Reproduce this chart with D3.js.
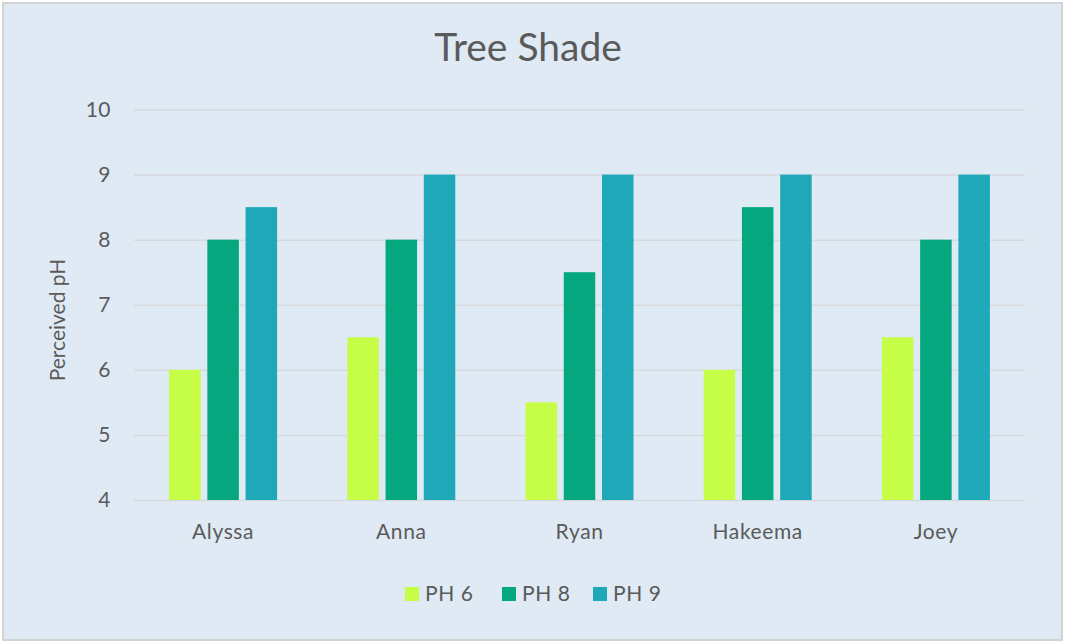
<!DOCTYPE html>
<html><head><meta charset="utf-8">
<script src="https://cdn.jsdelivr.net/npm/d3@7"></script>
<style>body{margin:0;background:#fff;}svg{display:block;}</style>
</head><body>
<svg id="c" width="1065" height="643"></svg>
<script>
const categories = ["Alyssa","Anna","Ryan","Hakeema","Joey"];
const seriesNames = ["PH 6","PH 8","PH 9"];
const ph6 = [6, 6.5, 5.5, 6, 6.5];
const ph8 = [8, 8, 7.5, 8.5, 8];
const ph9 = [8.5, 9, 9, 9, 9];
const yTicks = [4,5,6,7,8,9,10];
const colors = ["#c6fd46","#05a87e","#1fa9b8"];
const seriesValues = [ph6, ph8, ph9];

(function(){
const svg = d3.select("#c");
const font = "Lato, 'Open Sans', sans-serif";
const textCol = "#5a5a5a";

svg.append("rect").attr("x",3).attr("y",3).attr("width",1059).attr("height",637)
  .attr("fill","#dfeaf5").attr("stroke","#d3d3d3").attr("stroke-width",2);

const pLeft = 134, pRight = 1025, pTop = 109.5, pBottom = 500;
const x0 = d3.scaleBand().domain(categories).range([pLeft,pRight]).paddingInner(0.394).paddingOuter(0.197);
const x1 = d3.scaleBand().domain(seriesNames).range([0,x0.bandwidth()]).paddingInner(0.176).paddingOuter(0);
const y = d3.scaleLinear().domain([4,10]).range([pBottom,pTop]);

const yAxis = d3.axisLeft(y).tickValues(yTicks).tickSize(-(pRight-pLeft)).tickPadding(23).tickFormat(d3.format("d"));
const gy = svg.append("g").attr("transform",`translate(${pLeft},0)`).call(yAxis);
gy.select(".domain").remove();
gy.selectAll(".tick line").attr("stroke","#d7d9dc").attr("stroke-width",1.5);
gy.selectAll(".tick text").attr("fill",textCol).style("font-family",font).style("font-size","21px").style("letter-spacing","0.5px");

const groups = svg.append("g").selectAll("g").data(categories).join("g")
  .attr("transform",d=>`translate(${x0(d)},0)`);
groups.selectAll("rect").data((d,i)=>seriesNames.map((s,j)=>({s, v: seriesValues[j][i], j})))
  .join("rect")
  .attr("x",d=>x1(d.s)).attr("width",x1.bandwidth())
  .attr("y",d=>y(d.v)).attr("height",d=>y(4)-y(d.v))
  .attr("fill",d=>colors[d.j]);

const xAxis = d3.axisBottom(x0).tickSize(0).tickPadding(24);
const gx = svg.append("g").attr("transform",`translate(0,${pBottom})`).call(xAxis);
gx.select(".domain").remove();
gx.selectAll(".tick text").attr("fill",textCol).style("font-family",font).style("font-size","21px").style("letter-spacing","0.6px");

svg.append("text").attr("x",528).attr("y",61).attr("text-anchor","middle")
  .attr("fill",textCol).style("font-family",font).style("font-size","39px").text("Tree Shade");

svg.append("text").attr("transform","translate(65,320) rotate(-90)").attr("text-anchor","middle")
  .attr("fill",textCol).style("font-family",font).style("font-size","21px").text("Perceived pH");

const legendX = [405, 502, 593];
const lg = svg.append("g").selectAll("g").data(seriesNames).join("g")
  .attr("transform",(d,i)=>`translate(${legendX[i]},587)`);
lg.append("rect").attr("width",14).attr("height",14).attr("fill",(d,i)=>colors[i]);
lg.append("text").attr("x",20).attr("y",14).attr("fill",textCol)
  .style("font-family",font).style("font-size","21px").style("letter-spacing","0.6px").text(d=>d);
})();
</script>
</body></html>
